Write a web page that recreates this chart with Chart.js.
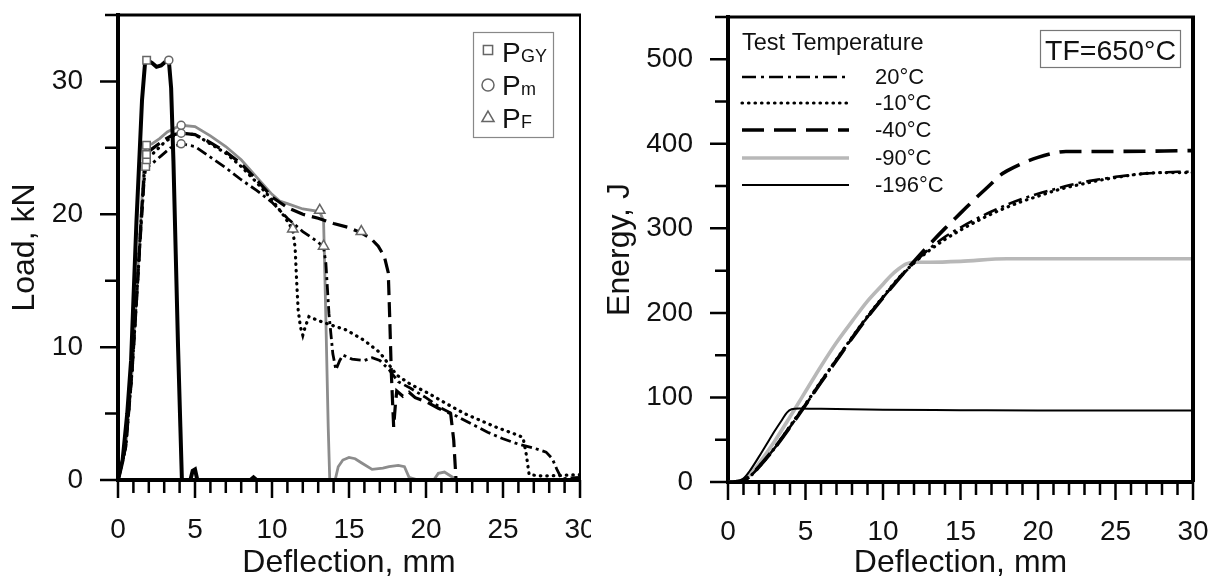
<!DOCTYPE html>
<html>
<head>
<meta charset="utf-8">
<script src="https://cdn.jsdelivr.net/npm/chart.js@4.4.1/dist/chart.umd.min.js"></script>
<style>
body{margin:0;background:#fff;width:1210px;height:584px;overflow:hidden;position:relative}
#leftBox{position:absolute;left:0;top:0;width:591px;height:584px}
#rightBox{position:absolute;left:591px;top:0;width:619px;height:584px}
</style>
</head>
<body>
<div id="leftBox"><canvas id="LoadChart"></canvas></div>
<div id="rightBox"><canvas id="EnergyChart"></canvas></div>
<script>
// texts
var X_TITLE = 'Deflection, mm';
var LOAD_TITLE = 'Load, kN';
var ENERGY_TITLE = 'Energy, J';
var temps = ['20°C', '-10°C', '-40°C', '-90°C', '-196°C'];
var legendTitle = 'Test Temperature';
var tfLabel = 'TF=650°C';
var markerNames = [['P', 'GY'], ['P', 'm'], ['P', 'F']];

// load vs deflection, [mm, kN]
var load20 = [[0,0],[0.5,2.5],[0.9,8],[1.2,13.5],[1.5,19],[1.7,22.5],[1.8,23.5],[2.2,23.8],[2.8,24.4],[3.4,25.0],[4.1,25.3],[5,25.1],[6,24.3],[7,23.5],[8,22.6],[9,21.8],[10,20.9],[11,19.7],[12,18.7],[13,17.9],[13.35,17.5],[13.5,16.3],[13.7,12.5],[13.95,9.5],[14.15,8.3],[14.4,9.0],[14.6,9.4],[15.2,9.1],[16,9.0],[16.5,9.2],[17,9.0],[17.6,8.3],[18.2,7.4],[19,6.9],[20,6.2],[21,5.4],[22,4.8],[23,4.2],[24,3.6],[25,3.1],[26,2.7],[27,2.4],[27.8,2.1],[28.2,1.6],[28.5,0.8],[28.8,0.1],[30,0.2]];
var load10 = [[0,0],[0.5,2.5],[0.9,8],[1.2,13.5],[1.5,19.5],[1.7,23],[1.85,24.1],[2.3,24.6],[3,25.4],[3.6,25.9],[4.1,26.1],[5,26.0],[6,25.3],[7,24.6],[8,23.6],[9,22.4],[10,21.1],[10.7,20.0],[11.1,19.3],[11.35,18.8],[11.5,17.5],[11.6,15],[11.7,12.8],[11.85,11.5],[12.0,10.9],[12.15,11.5],[12.4,12.3],[13,12.0],[14,11.6],[14.8,11.3],[16,10.5],[17,9.6],[18.1,7.9],[19,7.2],[20.2,6.5],[21.7,5.5],[22.5,5.0],[23.5,4.5],[24.5,4.0],[25.9,3.4],[26.3,3.2],[26.5,2.0],[26.7,0.4],[27.5,0.3],[30,0.4]];
var load40 = [[0,0],[0.5,2.5],[0.9,8],[1.2,13.5],[1.5,19.5],[1.7,23],[1.85,24.6],[2.3,25.0],[3,25.6],[3.6,26.0],[4.1,26.1],[5,26.0],[6,25.4],[7,24.7],[8,23.8],[9,22.6],[10,21.3],[11,20.5],[12,20.0],[13,19.7],[14,19.3],[15,19.0],[15.8,18.6],[16.4,18.2],[16.9,17.6],[17.3,16.8],[17.55,15.6],[17.65,12],[17.75,8],[17.9,4.0],[18.0,5.5],[18.1,6.7],[18.5,6.3],[18.9,6.6],[19.3,6.2],[20,5.9],[20.8,5.4],[21.6,5.0],[21.8,3],[21.95,0],[30,0]];
var load90 = [[0,0],[0.5,2.5],[0.9,8],[1.2,14],[1.5,20],[1.7,24],[1.8,25.2],[2.2,25.3],[2.7,25.7],[3.2,26.2],[3.7,26.5],[4.1,26.7],[5,26.6],[6,25.9],[7,25.1],[8,24.1],[9,22.8],[10,21.5],[10.5,21.0],[11,20.8],[12,20.4],[13.1,20.2],[13.35,19.5],[13.5,12],[13.65,4],[13.75,0],[14.1,0],[14.3,1.0],[14.6,1.5],[15.0,1.7],[15.4,1.6],[15.8,1.3],[16.5,0.8],[17.2,0.9],[17.6,1.0],[18.2,1.1],[18.6,1.0],[18.9,0.2],[19.5,0],[20.5,0],[20.8,0.5],[21.2,0.6],[21.6,0.3],[22,0]];
var load196 = [[0,0],[0.3,1.5],[0.6,5],[0.85,9],[1.0,13.5],[1.2,19.5],[1.4,24.5],[1.56,28.6],[1.75,31.3],[1.9,31.6],[2.2,31.4],[2.5,31.1],[2.8,31.2],[3.1,31.5],[3.3,31.6],[3.45,29.5],[3.6,24],[3.75,17],[3.9,10],[4.05,4],[4.15,0],[4.7,0],[4.85,0.7],[5.0,0.8],[5.15,0],[8.6,0],[8.8,0.2],[9.0,0],[30,0]];

// characteristic points: general yield, maximum, fracture
var gyX = [1.8, 1.85, 1.85, 1.85, 1.86];
var gyY = [23.6, 24.1, 24.5, 25.2, 31.6];
var pmX = [4.1, 4.1, 4.1, 3.3];
var pmY = [25.3, 26.1, 26.7, 31.6];
var pfX = [11.35, 13.1, 13.35, 15.8];
var pfY = [18.9, 20.3, 17.6, 18.7];

// energy vs deflection, [mm, J]
var energy20 = [[0,0],[0.5,0.3],[1,2],[1.5,8],[2,18],[3,40],[4,65],[5,91],[6,118],[7,144],[8,170],[9,195],[10,218],[11,240],[12,259],[13,276],[14,290],[15,301],[16,311],[17,320],[18,328],[19,335],[20,341],[21,346],[22,351],[23,355],[24,358],[25,361],[26,363],[27,365],[28,366],[29,367],[30,367]];
var energy10 = [[0,0],[0.5,0.3],[1,2],[1.5,8],[2,18],[3,40],[4,66],[5,92],[6,119],[7,145],[8,171],[9,196],[10,219],[11,241],[12,259],[13,274],[14,287],[15,298],[16,308],[17,317],[18,325],[19,332],[20,338],[21,344],[22,349],[23,353],[24,357],[25,360],[26,363],[27,365],[28,366],[29,366],[30,366]];
var energy40 = [[0,0],[0.5,0.3],[1,2],[1.5,8],[2,18],[3,40],[4,65],[5,91],[6,118],[7,144],[8,170],[9,195],[10,218],[11,240],[12,261],[13,281],[14,300],[15,318],[16,336],[17,353],[17.5,362],[18,368],[19,377],[20,384],[21,389],[21.8,391],[23,391],[25,391],[30,392]];
var energy90 = [[0,0],[0.5,0.3],[1,3],[1.5,10],[2,22],[3,48],[4,77],[4.5,92],[5,107],[6,137],[7,165],[8,190],[9,214],[10,234],[10.5,244],[11,252],[11.5,258],[12,260],[13,260],[15,261],[18,264],[22,264],[30,264]];
var energy196 = [[0,0],[0.5,0.5],[1,4],[1.4,13],[2,30],[2.5,45],[3,60],[3.5,74],[3.8,82],[4.1,86],[4.6,87],[6,86.5],[10,85.5],[15,85],[20,84.5],[30,84.5]];

Chart.defaults.font.family = "Arial, 'Liberation Sans', sans-serif";
Chart.defaults.color = '#111';

function pts(a){ return a.map(p => ({x: p[0], y: p[1]})); }
function xy(xs, ys){ return xs.map((v, i) => ({x: v, y: ys[i]})); }

// frame, minor/major tick marks
var frameTicks = {
  id: 'frameTicks',
  afterDatasetsDraw(chart, args, o) {
    var ctx = chart.ctx, a = chart.chartArea, sx = chart.scales.x, sy = chart.scales.y;
    ctx.save();
    ctx.strokeStyle = '#000';
    ctx.lineWidth = 2.5;
    ctx.beginPath();
    for (var v = sx.min; v <= sx.max + 1e-9; v += o.xMinor) {
      var px = sx.getPixelForValue(v);
      var len = Math.abs(v % o.xMajor) < 1e-9 ? 18 : 13;
      ctx.moveTo(px, a.bottom); ctx.lineTo(px, a.bottom + len);
    }
    for (v = sy.min; v <= sy.max + 1e-9; v += o.yMinor) {
      var py = sy.getPixelForValue(v);
      len = Math.abs(v % o.yMajor) < 1e-9 ? 18 : 13;
      ctx.moveTo(a.left, py); ctx.lineTo(a.left - len, py);
    }
    ctx.stroke();
    ctx.lineWidth = o.topWidth;
    ctx.beginPath(); ctx.moveTo(a.left, a.top); ctx.lineTo(a.right + o.rightWidth / 2, a.top); ctx.stroke();
    ctx.lineWidth = o.rightWidth;
    ctx.beginPath(); ctx.moveTo(a.right, a.top); ctx.lineTo(a.right, a.bottom); ctx.stroke();
    ctx.restore();
  }
};

function xScale(h){
  return {
    type: 'linear', min: 0, max: 30,
    ticks: {stepSize: 5, font: {size: 28}, padding: 33, maxRotation: 0, autoSkip: false},
    grid: {display: false, drawTicks: false},
    border: {display: true, width: 4, color: '#000'},
    title: {display: true, text: X_TITLE, font: {size: 32}, padding: {top: 0, bottom: 2}},
    afterFit: s => { s.height = h; s.paddingLeft = 0; s.paddingRight = 0; }
  };
}
function yScale(max, step, w, title, tpad){
  return {
    type: 'linear', min: 0, max: max,
    ticks: {stepSize: step, font: {size: 28}, padding: 35},
    afterBuildTicks: s => { s.ticks = s.ticks.filter(t => t.value % step === 0); },
    grid: {display: false, drawTicks: false},
    border: {display: true, width: 4, color: '#000'},
    title: {display: true, text: title, font: {size: 32}, padding: {top: tpad, bottom: 0}},
    afterFit: s => { s.width = w; s.paddingTop = 0; s.paddingBottom = 0; }
  };
}

// ---------- load chart ----------
var loadStyles = [
  {borderColor: '#000', borderWidth: 2.8, borderDash: [11, 4, 3, 4], cap: 'butt'},
  {borderColor: '#000', borderWidth: 3.2, borderDash: [0.5, 6], cap: 'round'},
  {borderColor: '#000', borderWidth: 3.2, borderDash: [15, 7], cap: 'butt'},
  {borderColor: '#8c8c8c', borderWidth: 2.8, borderDash: [], cap: 'butt'},
  {borderColor: '#000', borderWidth: 4, borderDash: [], cap: 'butt'}
];
var loadSeries = [load20, load10, load40, load90, load196];
var markerStyles = [
  {pointStyle: 'rect', radius: 5.3},
  {pointStyle: 'circle', radius: 4},
  {pointStyle: 'triangle', radius: 6}
];
var markerData = [xy(gyX, gyY), xy(pmX, pmY), xy(pfX, pfY)];

var loadSets = [];
markerData.forEach((d, i) => {
  loadSets.push({label: markerNames[i].join(''), data: d, showLine: false,
    pointStyle: markerStyles[i].pointStyle, pointRadius: markerStyles[i].radius,
    pointBackgroundColor: '#fff', pointBorderColor: '#666', pointBorderWidth: 1.5, order: 0});
});
loadSeries.forEach((d, i) => {
  var st = loadStyles[i];
  loadSets.push({label: temps[i], data: pts(d), showLine: true, pointRadius: 0,
    borderColor: st.borderColor, borderWidth: st.borderWidth, borderDash: st.borderDash,
    borderCapStyle: st.cap, tension: 0, order: i == 4 ? 1 : 2 + (i == 3 ? 5 : i)});
});

var markerLegend = {
  id: 'markerLegend',
  afterDraw(chart) {
    var ctx = chart.ctx;
    ctx.save();
    ctx.strokeStyle = '#888'; ctx.lineWidth = 1.2;
    ctx.strokeRect(473.5, 32.5, 80, 105);
    var rows = [50, 85, 118], base = [62, 95, 128], rad = [6.5, 6, 7];
    rows.forEach((y, i) => {
      ctx.fillStyle = '#fff'; ctx.strokeStyle = '#666'; ctx.lineWidth = 1.5;
      Chart.helpers.drawPoint(ctx, {pointStyle: markerStyles[i].pointStyle, radius: rad[i], borderWidth: 1.5, rotation: 0}, 488, y);
      ctx.fillStyle = '#111'; ctx.textBaseline = 'alphabetic'; ctx.textAlign = 'left';
      ctx.font = "28px Arial, 'Liberation Sans', sans-serif";
      ctx.fillText(markerNames[i][0], 502, base[i]);
      ctx.font = "18px Arial, 'Liberation Sans', sans-serif";
      ctx.fillText(markerNames[i][1], 521, base[i]);
    });
    ctx.restore();
  }
};

new Chart(document.getElementById('LoadChart'), {
  type: 'scatter',
  data: {datasets: loadSets},
  options: {
    responsive: true, maintainAspectRatio: false, animation: false, devicePixelRatio: 1,
    layout: {padding: {left: 0, right: 11, top: 15, bottom: 0}},
    plugins: {legend: {display: false}, tooltip: {enabled: false},
      frameTicks: {xMinor: 1, xMajor: 5, yMinor: 5, yMajor: 10, topWidth: 3, rightWidth: 2}},
    scales: {x: xScale(104), y: yScale(35, 10, 118, LOAD_TITLE, 6)}
  },
  plugins: [frameTicks, markerLegend]
});

// ---------- energy chart ----------
var energyStyles = [
  {borderColor: '#000', borderWidth: 2.6, borderDash: [14, 5, 3, 5], cap: 'butt'},
  {borderColor: '#000', borderWidth: 3.2, borderDash: [0.5, 6], cap: 'round'},
  {borderColor: '#000', borderWidth: 3.6, borderDash: [22, 10], cap: 'butt'},
  {borderColor: '#b8b8b8', borderWidth: 3.6, borderDash: [], cap: 'butt'},
  {borderColor: '#000', borderWidth: 2, borderDash: [], cap: 'butt'}
];
var energySeries = [energy20, energy10, energy40, energy90, energy196];
var energySets = energySeries.map((d, i) => ({
  label: temps[i], data: pts(d), showLine: true, pointRadius: 0,
  borderColor: energyStyles[i].borderColor, borderWidth: energyStyles[i].borderWidth,
  borderDash: energyStyles[i].borderDash, borderCapStyle: energyStyles[i].cap,
  cubicInterpolationMode: 'monotone', order: i == 3 ? 9 : i
}));

var tempLegend = {
  id: 'tempLegend',
  afterDraw(chart) {
    var ctx = chart.ctx, off = 591;
    ctx.save();
    ctx.fillStyle = '#111'; ctx.textAlign = 'left'; ctx.textBaseline = 'alphabetic';
    ctx.font = "23.5px Arial, 'Liberation Sans', sans-serif";
    ctx.fillText(legendTitle, 742 - off, 50);
    var rows = [77, 103, 130, 158, 185];
    ctx.font = "22px Arial, 'Liberation Sans', sans-serif";
    rows.forEach((y, i) => {
      var st = energyStyles[i];
      ctx.strokeStyle = st.borderColor; ctx.lineWidth = st.borderWidth; ctx.setLineDash(st.borderDash);
      ctx.lineCap = st.cap;
      ctx.beginPath(); ctx.moveTo(742 - off, y); ctx.lineTo(849 - off, y); ctx.stroke();
      ctx.setLineDash([]); ctx.lineCap = 'butt';
      ctx.textBaseline = 'middle';
      ctx.fillText(temps[i], 875 - off, y + 1);
    });
    ctx.strokeStyle = '#777'; ctx.lineWidth = 1.2;
    ctx.strokeRect(1040.5 - off, 30.5, 140, 37);
    ctx.font = "28.5px Arial, 'Liberation Sans', sans-serif";
    ctx.textAlign = 'center'; ctx.textBaseline = 'alphabetic';
    ctx.fillText(tfLabel, 1110.5 - off, 60);
    ctx.restore();
  }
};

new Chart(document.getElementById('EnergyChart'), {
  type: 'scatter',
  data: {datasets: energySets},
  options: {
    responsive: true, maintainAspectRatio: false, animation: false, devicePixelRatio: 1,
    layout: {padding: {left: 0, right: 17, top: 17, bottom: 0}},
    plugins: {legend: {display: false}, tooltip: {enabled: false},
      frameTicks: {xMinor: 1, xMajor: 5, yMinor: 50, yMajor: 100, topWidth: 3, rightWidth: 4}},
    scales: {x: xScale(102), y: yScale(550, 100, 137, ENERGY_TITLE, 10)}
  },
  plugins: [frameTicks, tempLegend]
});
</script>
</body>
</html>
